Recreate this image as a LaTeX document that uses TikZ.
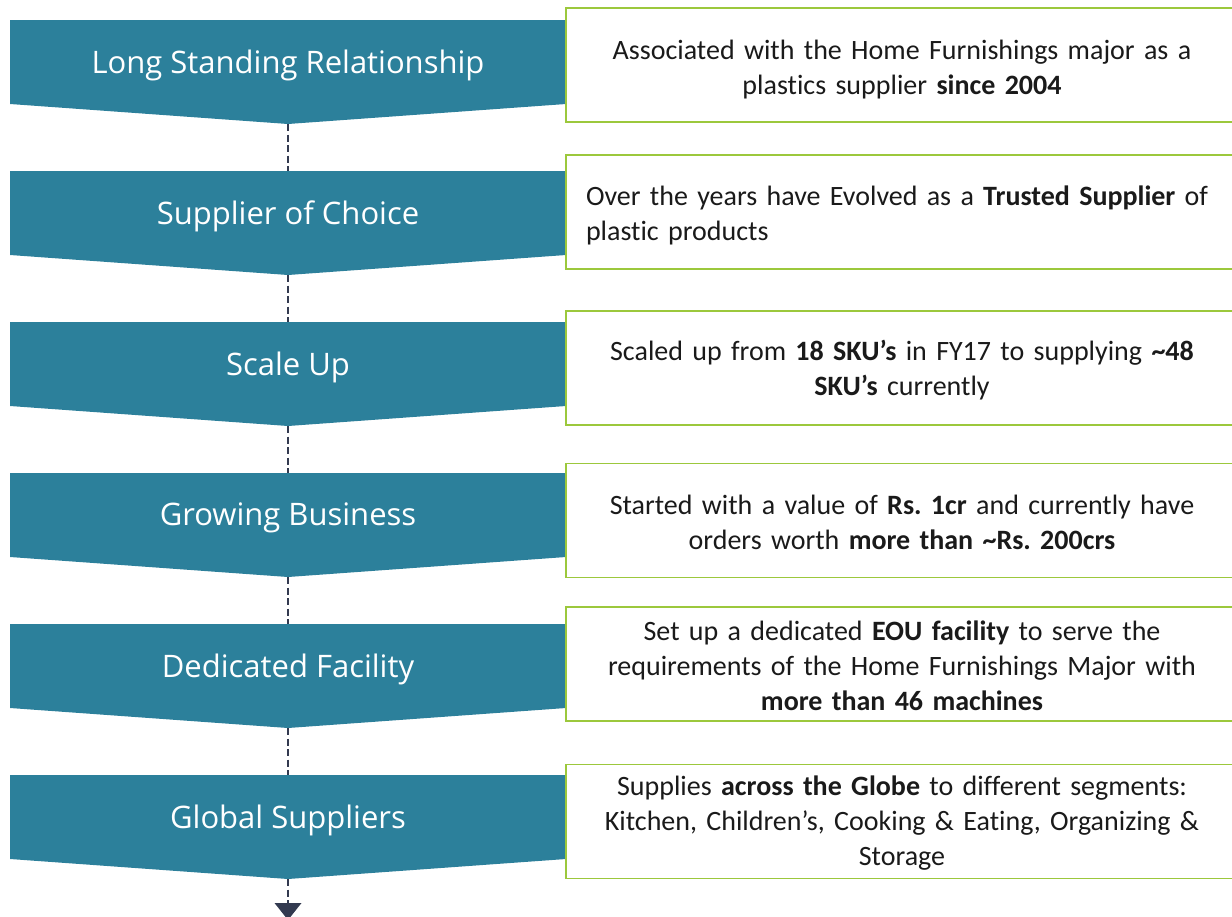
\documentclass[tikz,border=0pt]{standalone}
\usepackage{fontspec}
\setmainfont[Ligatures={NoCommon,NoContextual}]{Carlito}
\newfontfamily\labelfont{Open Sans}
\definecolor{chevfill}{HTML}{2C809B}
\definecolor{boxgreen}{HTML}{9CC83C}
\definecolor{dashnavy}{HTML}{333A50}
\definecolor{desctext}{HTML}{1A1A1A}
\tikzset{
  chevron/.style={fill=chevfill, draw=none},
  chevtext/.style={text=white, font=\labelfont\fontsize{31}{36}\selectfont, inner sep=0pt},
  descbox/.style={draw=boxgreen, line width=1.2pt, fill=white, minimum width=672pt, minimum height=114pt,
    text width=650pt, align=center, inner sep=0pt, text=desctext, font=\frenchspacing\fontsize{28}{35}\selectfont},
  descleft/.style={descbox, text width=632pt, align=left},
  conn/.style={draw=dashnavy, line width=2.6pt, dash pattern=on 7pt off 3.5pt},
  tiphead/.style={fill=dashnavy, draw=none}
}
\begin{document}
\begin{tikzpicture}[x=1pt,y=-1pt]
\useasboundingbox (0,0) rectangle (1232,916);
\clip (0,0) rectangle (1232,916);
% chevrons
\foreach \i/\lab in {1/Long Standing Relationship, 2/Supplier of Choice, 3/Scale Up, 4/Growing Business, 5/Dedicated Facility, 6/Global Suppliers}{
  \pgfmathsetmacro{\T}{20+151*(\i-1)}
  \fill[chevron] (10,\T) -- (566,\T) -- (566,\T+84) -- (288,\T+104) -- (10,\T+84) -- cycle;
  \coordinate (top\i) at (288,\T);
  \coordinate (tip\i) at (288,\T+104);
  \node[chevtext] (c\i) at (288,\T+45) {\lab};
}
% description boxes (box outlines at fixed rows, text placed inside)
\node[descbox] (d1) at (902,65) {};
\node[descbox, draw=none, fill=none] (t1) at (902,70) {Associated with the Home Furnishings major as a\\ plastics supplier \textbf{since 2004}};
\node[descbox] (d2) at (902,212) {};
\node[descleft, draw=none, fill=none] (t2) at (902,215) {Over the years have Evolved as a \textbf{Trusted Supplier} of\\ plastic products};
\node[descbox] (d3) at (902,368) {};
\node[descbox, draw=none, fill=none] (t3) at (902,369.8) {Scaled up from \textbf{18 SKU’s} in FY17 to supplying \textbf{\textasciitilde 48}\\ \textbf{SKU’s} currently};
\node[descbox] (d4) at (902,520.5) {};
\node[descbox, draw=none, fill=none] (t4) at (902,522) {Started with a value of \textbf{Rs. 1cr} and currently have\\ orders worth \textbf{more than \textasciitilde Rs. 200crs}};
\node[descbox] (d5) at (902,664) {};
\node[descbox, draw=none, fill=none] (t5) at (902,666) {Set up a dedicated \textbf{EOU facility} to serve the\\ requirements of the Home Furnishings Major with\\ \textbf{more than 46 machines}};
\node[descbox] (d6) at (902,821.5) {};
\node[descbox, draw=none, fill=none] (t6) at (902,823) {Supplies \textbf{across the Globe} to different segments:\\ Kitchen, Children’s, Cooking \& Eating, Organizing \&\\ Storage};
% connectors
\draw[conn] (tip1) -- (top2);
\draw[conn] (tip2) -- (top3);
\draw[conn] (tip3) -- (top4);
\draw[conn] (tip4) -- (top5);
\draw[conn] (tip5) -- (top6);
\coordinate (endarrow) at (288,903);
\draw[conn] (tip6) -- (endarrow);
\fill[tiphead] (274.5,903) -- (301.5,903) -- (288,920) -- cycle;
\end{tikzpicture}
\end{document}
